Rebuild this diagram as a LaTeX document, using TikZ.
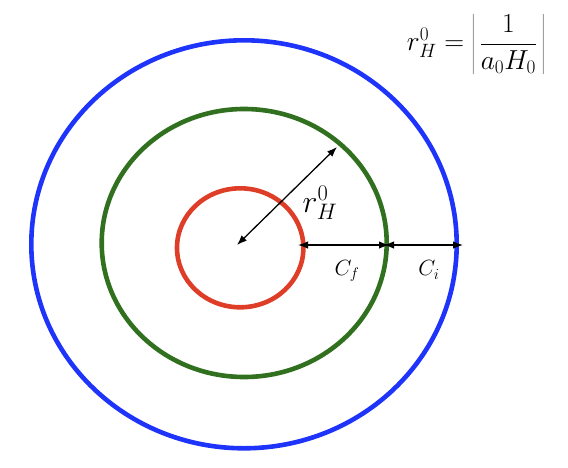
\RequirePackage{fix-cm}
\documentclass[tikz,border=0pt]{standalone}
\usetikzlibrary{shapes.geometric,arrows.meta}
\definecolor{ringblue}{RGB}{30,52,250}
\definecolor{ringgreen}{RGB}{48,112,30}
\definecolor{ringred}{RGB}{222,62,40}
\begin{document}
\begin{tikzpicture}[x=1pt,y=-1pt,
  ring/.style={ellipse,draw,line width=4.6pt,inner sep=0pt,fill=none},
  dimarrow/.style={line width=1.3pt,{Latex[length=10pt,width=7.5pt]}-{Latex[length=10pt,width=7.5pt]}},
  lbl/.style={inner sep=0pt,font=\fontsize{22}{26}\selectfont}]
\useasboundingbox (0,0) rectangle (568,467);
\node[ring,draw=ringblue,minimum width=425.4pt,minimum height=408pt] (blue) at (244,244.3) {};
\node[ring,draw=ringgreen,minimum width=285pt,minimum height=268pt] (green) at (244.2,243) {};
\node[ring,draw=ringred,minimum width=126.4pt,minimum height=119pt] (red) at (240.2,247.8) {};
\coordinate (ctr) at (237,245);
\coordinate (rtip) at (337,147);
\coordinate (a1) at (298,245);
\coordinate (a2) at (389,245);
\coordinate (b1) at (384,245);
\coordinate (b2) at (463,245);
\draw[dimarrow] (ctr) -- (rtip);
\draw[dimarrow] (a1) -- (a2);
\draw[dimarrow] (b1) -- (b2);
\node[inner sep=0pt,font=\fontsize{32}{36}\selectfont] (rlabel) at (320,203) {$r_H^0$};
\node[lbl] (cf) at (347,271) {$C_f$};
\node[lbl] (ci) at (429,270) {$C_i$};
\node[inner sep=0pt,font=\fontsize{27.5}{32}\selectfont] (eq) at (476,44) {$r_H^0=\left|\,\displaystyle\frac{1}{a_0H_0}\,\right|$};
\end{tikzpicture}
\end{document}
